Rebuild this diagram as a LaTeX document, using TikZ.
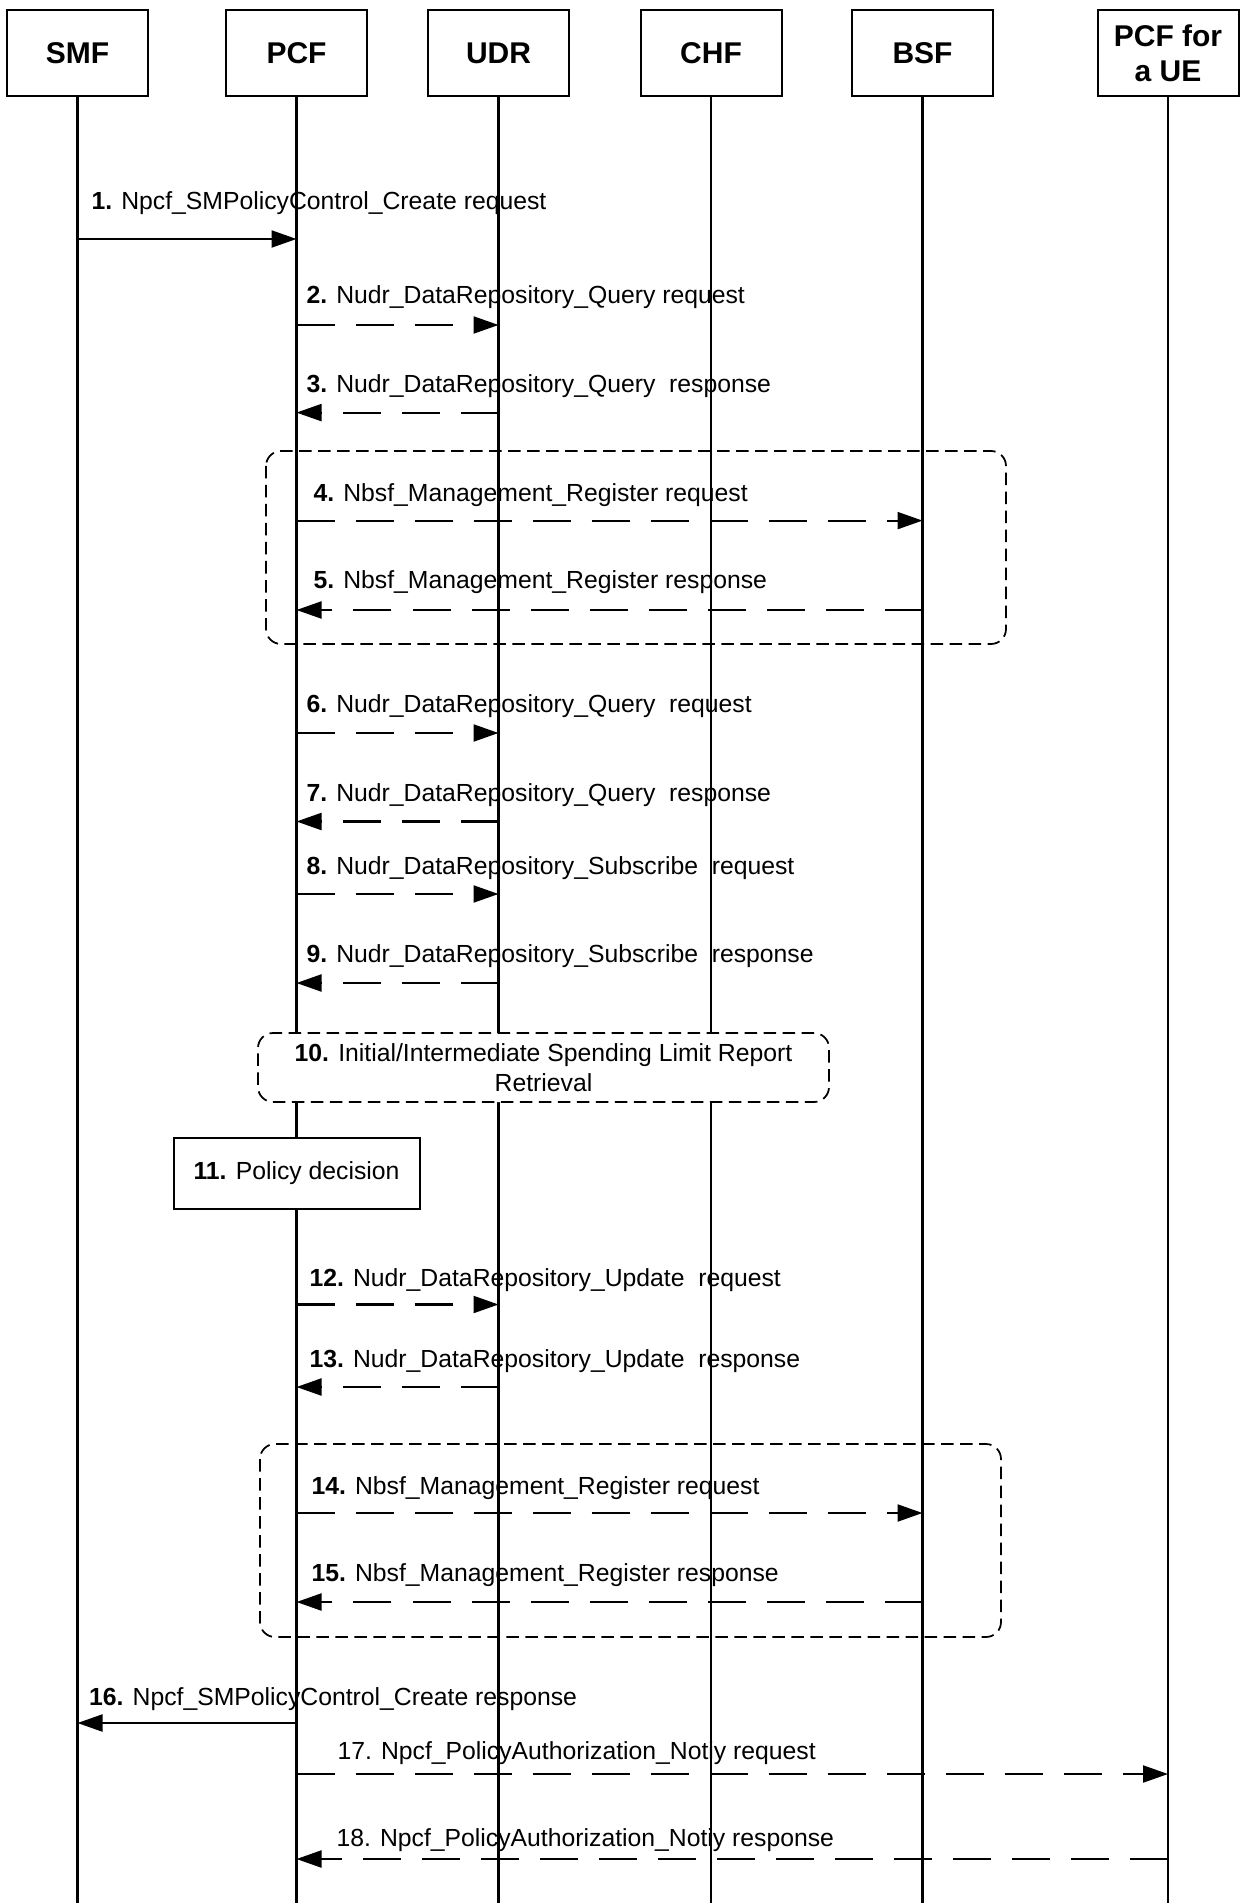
\documentclass[tikz,border=0pt]{standalone}
\usepackage{fontspec}
\setmainfont{Liberation Sans}
\usetikzlibrary{arrows.meta}

\begin{document}
\begin{tikzpicture}[x=0.4pt,y=-0.4pt,
  entity/.style={draw,line width=0.8pt,minimum width=56.4pt,minimum height=34.4pt,inner sep=1pt,align=center,font=\fontsize{12}{14}\selectfont\bfseries},
  msg/.style={anchor=west,inner sep=0pt,font=\fontsize{9.9}{12}\selectfont},
  life/.style={line width=0.85pt},
  req/.style={line width=0.85pt,-{Triangle[length=10pt,width=6.8pt]}},
  dreq/.style={req,dash pattern=on 15.2pt off 8.4pt},
  grp/.style={draw,line width=0.7pt,dash pattern=on 5pt off 2.6pt,rounded corners=6pt},
  stepbox/.style={draw,fill=white,line width=0.8pt,align=center,inner sep=1pt,font=\fontsize{9.9}{12}\selectfont}]
\useasboundingbox (0,0) rectangle (1239,1903);
\node[entity] (smf) at (77.5,53) {SMF};
\node[entity] (pcf) at (296.5,53) {PCF};
\node[entity] (udr) at (498.5,53) {UDR};
\node[entity] (chf) at (711,53) {CHF};
\node[entity] (bsf) at (922.5,53) {BSF};
\node[entity] (ue) at (1168,53) {PCF for\\a UE};
\coordinate (bot) at (0,1903);
\draw[life] (smf.south) -- (smf.south |- bot);
\draw[life] (pcf.south) -- (pcf.south |- bot);
\draw[life] (udr.south) -- (udr.south |- bot);
\draw[life] (chf.south) -- (chf.south |- bot);
\draw[life] (bsf.south) -- (bsf.south |- bot);
\draw[life] (ue.south) -- (ue.south |- bot);
\draw[grp] (266,451) rectangle (1006,644);
\draw[grp] (260,1444) rectangle (1001,1637);
\node[msg] (l1) at (91,202.7) {\textbf{1.} Npcf\_SMPolicyControl\_Create request};
\coordinate (y1) at (0,239);
\draw[req] (smf |- y1) -- (pcf |- y1);
\node[msg] (l2) at (306,297) {\textbf{2.} Nudr\_DataRepository\_Query request};
\coordinate (y2) at (0,325);
\draw[dreq] (pcf |- y2) -- (udr |- y2);
\node[msg] (l3) at (306,386) {\textbf{3.} Nudr\_DataRepository\_Query~ response};
\coordinate (y3) at (0,412.6);
\draw[dreq] (udr |- y3) -- (pcf |- y3);
\node[msg] (l4) at (313,495) {\textbf{4.} Nbsf\_Management\_Register request};
\coordinate (y4) at (0,520.6);
\draw[dreq] (pcf |- y4) -- (bsf |- y4);
\node[msg] (l5) at (313,582.5) {\textbf{5.} Nbsf\_Management\_Register response};
\coordinate (y5) at (0,610);
\draw[dreq] (bsf |- y5) -- (pcf |- y5);
\node[msg] (l6) at (306,706) {\textbf{6.} Nudr\_DataRepository\_Query~ request};
\coordinate (y6) at (0,733);
\draw[dreq] (pcf |- y6) -- (udr |- y6);
\node[msg] (l7) at (306,795) {\textbf{7.} Nudr\_DataRepository\_Query~ response};
\coordinate (y7) at (0,821.5);
\draw[dreq] (udr |- y7) -- (pcf |- y7);
\node[msg] (l8) at (306,867.7) {\textbf{8.} Nudr\_DataRepository\_Subscribe~ request};
\coordinate (y8) at (0,894);
\draw[dreq] (pcf |- y8) -- (udr |- y8);
\node[msg] (l9) at (306,956) {\textbf{9.} Nudr\_DataRepository\_Subscribe~ response};
\coordinate (y9) at (0,983);
\draw[dreq] (udr |- y9) -- (pcf |- y9);
\node[stepbox,grp,minimum width=228.4pt,minimum height=27.6pt] (s10) at (543.5,1067.5) {\textbf{10.} Initial/Intermediate Spending Limit Report\\Retrieval};
\node[stepbox,minimum width=98.4pt,minimum height=28.4pt] (s11) at (296.5,1173.5) {\textbf{11.} Policy decision};
\node[msg] (l12) at (309,1280) {\textbf{12.} Nudr\_DataRepository\_Update~ request};
\coordinate (y12) at (0,1304.5);
\draw[dreq] (pcf |- y12) -- (udr |- y12);
\node[msg] (l13) at (309,1361.5) {\textbf{13.} Nudr\_DataRepository\_Update~ response};
\coordinate (y13) at (0,1387);
\draw[dreq] (udr |- y13) -- (pcf |- y13);
\node[msg] (l14) at (311,1488) {\textbf{14.} Nbsf\_Management\_Register request};
\coordinate (y14) at (0,1513);
\draw[dreq] (pcf |- y14) -- (bsf |- y14);
\node[msg] (l15) at (311,1575) {\textbf{15.} Nbsf\_Management\_Register response};
\coordinate (y15) at (0,1602);
\draw[dreq] (bsf |- y15) -- (pcf |- y15);
\node[msg] (l16) at (88.6,1699) {\textbf{16.} Npcf\_SMPolicyControl\_Create response};
\coordinate (y16) at (0,1723);
\draw[req] (pcf |- y16) -- (smf |- y16);
\node[msg] (l17) at (337,1753.5) {17. Npcf\_PolicyAuthorization\_Notiy request};
\coordinate (y17) at (0,1774);
\draw[dreq] (pcf |- y17) -- (ue |- y17);
\node[msg] (l18) at (336,1840) {18. Npcf\_PolicyAuthorization\_Notiy response};
\coordinate (y18) at (0,1859);
\draw[dreq] (ue |- y18) -- (pcf |- y18);
\end{tikzpicture}
\end{document}
